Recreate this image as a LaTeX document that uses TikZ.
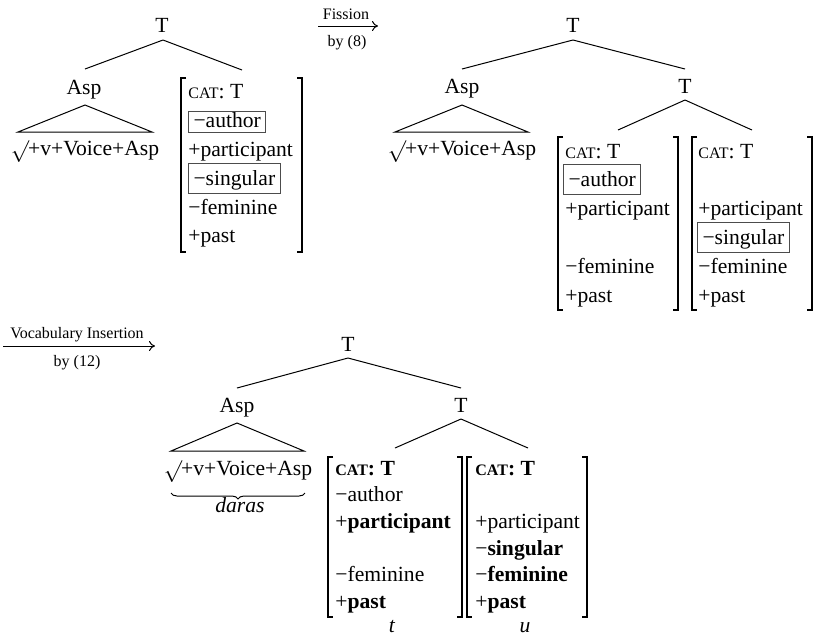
\documentclass[tikz,border=0pt]{standalone}
\usepackage{fontspec}
\setmainfont{Liberation Serif}
\usetikzlibrary{arrows.meta,decorations.pathreplacing}
\newcommand\catT{{\fontsize{8}{9}\selectfont CAT}: T}
\newcommand\rootsurd{\raisebox{-1pt}{$\surd$}\kern-0.5pt+v+Voice+Asp}
\newcommand\Brk[4]{%
  \draw[brk] (#1+5,#3) -- (#1,#3) -- (#1,#4) -- (#1+5,#4);
  \draw[brk] (#2-5,#3) -- (#2,#3) -- (#2,#4) -- (#2-5,#4);}
\tikzset{
  lbl/.style={inner sep=0pt, anchor=base},
  row/.style={inner sep=0pt, anchor=base west},
  fbx/.style={draw=black!70, line width=0.5pt, anchor=base west, inner xsep=2.5pt, inner ysep=0pt, text height=11pt, text depth=4pt},
  fbxs/.style={fbx, text height=8pt, text depth=2.5pt},
  brk/.style={line width=0.7pt},
  edge/.style={line width=0.5pt},
  small/.style={font=\fontsize{8}{9.6}\selectfont},
  arr/.style={line width=0.5pt, -{To[length=3pt,width=5pt]}}
}
\begin{document}
\begin{tikzpicture}[x=0.5pt,y=-0.5pt,font=\fontsize{10.8pt}{13pt}\selectfont]
\useasboundingbox (0,0) rectangle (819,634);

% ---------- Tree 1 ----------
\node[lbl] (T1) at (162,32) {T};
\node[lbl] (Asp1) at (84,94) {Asp};
\coordinate (T1a) at (163,40);
\coordinate (T1l) at (85,69);
\coordinate (T1r) at (242,70);
\draw[edge] (T1a) -- (T1l);
\draw[edge] (T1a) -- (T1r);
\coordinate (tr1a) at (85,105);
\coordinate (tr1l) at (18,132);
\coordinate (tr1r) at (152,132);
\draw[edge] (tr1a) -- (tr1l) -- (tr1r) -- cycle;
\node[lbl] (R1) at (85,155) {\rootsurd};
\Brk{181}{302}{78}{252}
\node[row] (a1r1) at (188,98) {\catT};
\node[fbxs] (a1r2) at (188,127) {−author};
\node[row] (a1r3) at (188,156) {+participant};
\node[fbx] (a1r4) at (188,185) {−singular};
\node[row] (a1r5) at (188,214) {−feminine};
\node[row] (a1r6) at (188,242) {+past};

% ---------- Fission arrow ----------
\coordinate (F1) at (318,26);
\coordinate (F2) at (378,26);
\draw[arr] (F1) -- (F2);
\node[lbl,small] (Fl) at (346,19) {Fission};
\node[lbl,small] (Fb) at (347,46) {by (8)};

% ---------- Tree 2 ----------
\node[lbl] (T2) at (573,32) {T};
\node[lbl] (Asp2) at (462,93) {Asp};
\node[lbl] (T2b) at (685,93) {T};
\coordinate (T2a) at (573,40);
\coordinate (T2l) at (462,69);
\coordinate (T2r) at (685,69);
\draw[edge] (T2a) -- (T2l);
\draw[edge] (T2a) -- (T2r);
\coordinate (tr2a) at (462,105);
\coordinate (tr2l) at (395,132);
\coordinate (tr2r) at (528,132);
\draw[edge] (tr2a) -- (tr2l) -- (tr2r) -- cycle;
\node[lbl] (R2) at (462,155) {\rootsurd};
\coordinate (T2ba) at (685,100);
\coordinate (T2bl) at (618,130);
\coordinate (T2br) at (752,130);
\draw[edge] (T2ba) -- (T2bl);
\draw[edge] (T2ba) -- (T2br);
\Brk{558}{678}{137}{310}
\node[row] (a2r1) at (565,158) {\catT};
\node[fbx] (a2r2) at (563,186.8) {−author};
\node[row] (a2r3) at (565,215.6) {+participant};
\node[row] (a2r5) at (565,273.2) {−feminine};
\node[row] (a2r6) at (565,302) {+past};
\Brk{692}{812}{137}{310}
\node[row] (b2r1) at (698,158) {\catT};
\node[row] (b2r3) at (698,215.6) {+participant};
\node[fbx] (b2r4) at (697,244.4) {−singular};
\node[row] (b2r5) at (698,273.2) {−feminine};
\node[row] (b2r6) at (698,302) {+past};

% ---------- Vocabulary Insertion arrow ----------
\coordinate (V1) at (3,346);
\coordinate (V2) at (155,346);
\draw[arr] (V1) -- (V2);
\node[lbl,small] (Vl) at (77,338) {Vocabulary Insertion};
\node[lbl,small] (Vb) at (77,366) {by (12)};

% ---------- Tree 3 ----------
\node[lbl] (T3) at (348,351) {T};
\node[lbl] (Asp3) at (237,412) {Asp};
\node[lbl] (T3b) at (461,412) {T};
\coordinate (T3a) at (348,358);
\coordinate (T3l) at (237,388);
\coordinate (T3r) at (461,388);
\draw[edge] (T3a) -- (T3l);
\draw[edge] (T3a) -- (T3r);
\coordinate (tr3a) at (237,423);
\coordinate (tr3l) at (171,451);
\coordinate (tr3r) at (304,451);
\draw[edge] (tr3a) -- (tr3l) -- (tr3r) -- cycle;
\node[lbl] (R3) at (238,475) {\rootsurd};
\coordinate (B1) at (171,493);
\coordinate (B2) at (305,493);
\draw[edge, decorate, decoration={brace, mirror, amplitude=3pt}] (B1) -- (B2);
\node[lbl] (D3) at (240,512) {\textit{daras}};
\coordinate (T3ba) at (461,419);
\coordinate (T3bl) at (395,448);
\coordinate (T3br) at (528,448);
\draw[edge] (T3ba) -- (T3bl);
\draw[edge] (T3ba) -- (T3br);
\Brk{328}{462}{457}{617}
\node[row] (t3r1) at (335,475) {\textbf{\catT}};
\node[row] (t3r2) at (335,501.7) {−author};
\node[row] (t3r3) at (335,528.4) {+\textbf{participant}};
\node[row] (t3r5) at (335,581.8) {−feminine};
\node[row] (t3r6) at (335,608.5) {+\textbf{past}};
\Brk{467}{587}{457}{617}
\node[row] (u3r1) at (475,475) {\textbf{\catT}};
\node[row] (u3r3) at (475,528.4) {+participant};
\node[row] (u3r4) at (475,555.1) {−\textbf{singular}};
\node[row] (u3r5) at (475,581.8) {−\textbf{feminine}};
\node[row] (u3r6) at (475,608.5) {+\textbf{past}};
\node[lbl] (tl) at (392,632) {\textit{t}};
\node[lbl] (ul) at (525,632) {\textit{u}};
\end{tikzpicture}
\end{document}
